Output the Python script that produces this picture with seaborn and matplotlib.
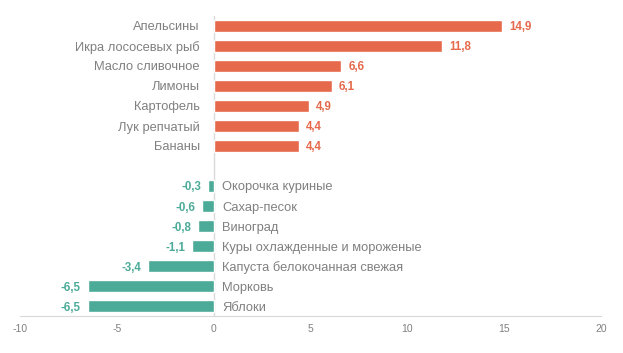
import pandas as pd
import seaborn as sns
import matplotlib.pyplot as plt

# data
names_up = ["Апельсины", "Икра лососевых рыб", "Масло сливочное", "Лимоны",
            "Картофель", "Лук репчатый", "Бананы"]
values_up = [14.9, 11.8, 6.6, 6.1, 4.9, 4.4, 4.4]
names_down = ["Окорочка куриные", "Сахар-песок", "Виноград",
              "Куры охлажденные и мороженые", "Капуста белокочанная свежая",
              "Морковь", "Яблоки"]
values_down = [-0.3, -0.6, -0.8, -1.1, -3.4, -6.5, -6.5]

ORANGE = "#E5694A"
TEAL = "#4BAB98"
GREY = "#808080"

df = pd.DataFrame({"name": names_up + names_down,
                   "value": values_up + values_down})
df["sign"] = ["up" if v > 0 else "down" for v in df["value"]]
order = names_up + [" "] + names_down

sns.set_style("white")
plt.rcParams["font.family"] = ["Liberation Sans", "DejaVu Sans"]

fig = plt.figure(figsize=(6.23, 3.53), dpi=100)
ax = fig.add_axes([0.0321, 0.1048, 0.9326, 0.8499])
sns.barplot(data=df, x="value", y="name", hue="sign", order=order,
            palette={"up": ORANGE, "down": TEAL}, dodge=False, width=0.6,
            saturation=1, legend=False, ax=ax)

ax.set_xlim(-10, 20)
ax.set_ylim(len(order) - 0.5, -0.5)
ax.set_xticks([-10, -5, 0, 5, 10, 15, 20])
ax.set_xticklabels(["-10", "-5", "0", "5", "10", "15", "20"])
ax.tick_params(axis="x", length=0, labelsize=7.5, labelcolor=GREY, pad=6)
ax.set_yticks([])
ax.set_xlabel("")
ax.set_ylabel("")
for s in ["top", "right", "left"]:
    ax.spines[s].set_visible(False)
ax.spines["bottom"].set_color("#D9D9D9")
ax.axvline(0, color="#D9D9D9", lw=1, zorder=0)

# category names and value labels
for _, row in df.iterrows():
    i = order.index(row["name"])
    v = row["value"]
    lab = f"{v:.1f}".replace(".", ",")
    if v > 0:
        ax.annotate(row["name"], (0, i), xytext=(-10, 0), textcoords="offset points",
                    ha="right", va="center_baseline", fontsize=9.3, color=GREY)
        ax.annotate(lab, (v, i), xytext=(5, 0), textcoords="offset points",
                    ha="left", va="center_baseline", fontsize=8.3, color=ORANGE,
                    fontweight="bold")
    else:
        ax.annotate(row["name"], (0, i), xytext=(6, 0), textcoords="offset points",
                    ha="left", va="center_baseline", fontsize=9.3, color=GREY)
        ax.annotate(lab, (v, i), xytext=(-5, 0), textcoords="offset points",
                    ha="right", va="center_baseline", fontsize=8.3, color=TEAL,
                    fontweight="bold")

fig.savefig("out.png", dpi=100)
